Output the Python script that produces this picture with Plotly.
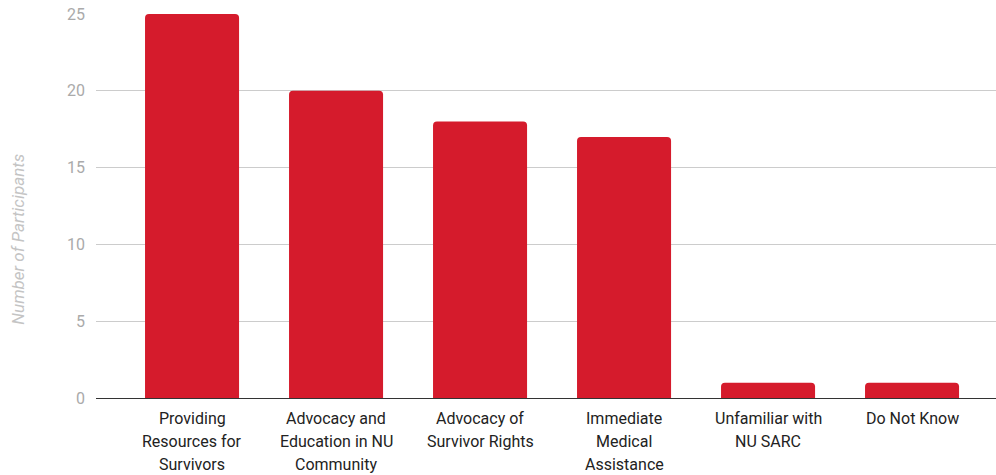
import plotly.graph_objects as go

categories = [
    ["Providing", "Resources for", "Survivors"],
    ["Advocacy and", "Education in NU", "Community"],
    ["Advocacy of", "Survivor Rights"],
    ["Immediate", "Medical", "Assistance"],
    ["Unfamiliar with", "NU SARC"],
    ["Do Not Know"],
]
values = [25, 20, 18, 17, 1, 1]
y_ticks = [0, 5, 10, 15, 20, 25]

xs = list(range(len(categories)))

fig = go.Figure(go.Bar(
    x=xs,
    y=values,
    marker=dict(color="#d51b2c", line=dict(width=0)),
    width=0.653,
))

annotations = []
for i, lines in enumerate(categories):
    for j, line in enumerate(lines):
        annotations.append(dict(
            x=i, xref="x", y=0, yref="paper",
            text=line, showarrow=False,
            xanchor="center", yanchor="middle",
            yshift=-(20 + 23 * j),
            font=dict(family="Roboto", size=16, color="#222222"),
        ))
annotations.append(dict(
    x=-0.087, xref="paper", y=0.414, yref="paper",
    text="<i>Number of Participants</i>", textangle=-90, showarrow=False,
    xanchor="center", yanchor="middle",
    font=dict(family="Roboto", size=17, color="#c4c4c4"),
))

fig.update_layout(
    width=996, height=475,
    margin=dict(l=96, r=0, t=14, b=77),
    paper_bgcolor="white", plot_bgcolor="white",
    font=dict(family="Roboto", size=16, color="#222"),
    barcornerradius=4,
    showlegend=False,
    annotations=annotations,
)
fig.update_xaxes(
    tickmode="array",
    tickvals=xs,
    ticktext=["" for _ in xs],
    range=[-0.667, 5.583],
    showgrid=False,
    showline=False,
    ticks="",
)
fig.update_yaxes(
    range=[0, 25],
    tickmode="array",
    tickvals=y_ticks,
    ticktext=[str(v) for v in y_ticks],
    showgrid=True, gridcolor="#cccccc", gridwidth=1,
    zeroline=True, zerolinecolor="#333333", zerolinewidth=1,
    tickfont=dict(family="Roboto", size=16, color="#aaaaaa"),
    ticklabelstandoff=10,
)

fig.write_html("out.html")
